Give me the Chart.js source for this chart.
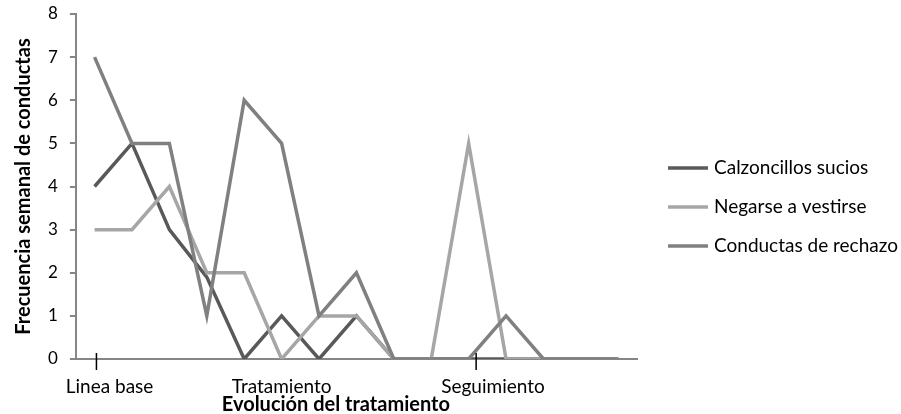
<!DOCTYPE html>
<html>
<head>
<meta charset="utf-8">
<script src="https://cdn.jsdelivr.net/npm/chart.js@4.4.1/dist/chart.umd.min.js"></script>
<style>
  html, body { margin: 0; padding: 0; background: #fff; }
</style>
</head>
<body>
<canvas id="chart" width="901" height="414"></canvas>
<script>
// Data (one point per week)
const weeks = ['1', '2', '3', '4', '5', '6', '7', '8', '9', '10', '11', '12', '13', '14', '15'];
const calzoncillos = [4, 5, 3, 1.9, 0, 1, 0, 1, 0, 0, 0, 0, 0, 0, 0];
const negarse = [3, 3, 4, 2, 2, 0, 1, 1, 0, 0, 5, 0, 0, 0, 0];
const rechazo = [7, 5, 5, 1, 6, 5, 1, 2, 0, 0, 0, 1, 0, 0, 0];
const seriesNames = ['Calzoncillos sucios', 'Negarse a vestirse', 'Conductas de rechazo'];
const seriesColors = ['#595959', '#a6a6a6', '#808080'];
const yTicks = [0, 1, 2, 3, 4, 5, 6, 7, 8];

// Phase labels under the axis (position in week units)
const phaseLabels = ['Linea base', 'Tratamiento', 'Seguimiento'];
const phaseAt = [0.4, 5, 10.65];
const phaseMarks = [0.05, 10.2];
const xTitle = 'Evolución del tratamiento';
const xTitleAt = 6.45;
const yTitle = 'Frecuencia semanal de conductas';

const FONT = 'Lato';

// draws phase labels, x title and the legend on the right
const annotations = {
  id: 'annotations',
  afterDraw(chart) {
    const { ctx, chartArea, scales: { x } } = chart;
    ctx.save();

    ctx.strokeStyle = '#000';
    ctx.lineWidth = 1.5;
    phaseMarks.forEach(v => {
      const px = x.getPixelForValue(v);
      ctx.beginPath();
      ctx.moveTo(px, chartArea.bottom - 6);
      ctx.lineTo(px, chartArea.bottom + 11);
      ctx.stroke();
    });

    ctx.fillStyle = '#000';
    ctx.textAlign = 'center';
    ctx.textBaseline = 'middle';
    ctx.font = `19px ${FONT}`;
    phaseLabels.forEach((t, i) => {
      ctx.fillText(t, x.getPixelForValue(phaseAt[i]), chartArea.bottom + 28);
    });

    ctx.font = `bold 20px ${FONT}`;
    ctx.fillText(xTitle, x.getPixelForValue(xTitleAt), chartArea.bottom + 46);

    // legend
    ctx.font = `19px ${FONT}`;
    ctx.textAlign = 'left';
    const mid = chart.height / 2;
    chart.data.datasets.forEach((ds, i) => {
      const y = mid + (i - 1) * 39;
      const x0 = chartArea.right + 31;
      ctx.strokeStyle = ds.borderColor;
      ctx.lineWidth = ds.borderWidth;
      ctx.beginPath();
      ctx.moveTo(x0, y);
      ctx.lineTo(x0 + 40, y);
      ctx.stroke();
      ctx.fillText(ds.label, x0 + 46, y);
    });

    ctx.restore();
  }
};

const seriesData = [calzoncillos, negarse, rechazo];
const datasets = seriesData.map((d, i) => ({
  label: seriesNames[i],
  data: d,
  borderColor: seriesColors[i],
  backgroundColor: seriesColors[i],
  borderWidth: 3.5,
  pointRadius: 0,
  tension: 0,
  order: 2 - i // later series on top, like the original
}));

new Chart(document.getElementById('chart'), {
  type: 'line',
  data: { labels: weeks, datasets },
  options: {
    responsive: false,
    animation: false,
    layout: { padding: { left: 12, top: 14, right: 264, bottom: 47 } },
    plugins: {
      legend: { display: false },
      tooltip: { enabled: false }
    },
    scales: {
      x: {
        type: 'category',
        offset: true,
        grid: { display: false },
        border: { display: true, color: '#868686', width: 2 },
        ticks: { display: false }
      },
      y: {
        min: 0,
        max: 8,
        afterBuildTicks: axis => { axis.ticks = yTicks.map(v => ({ value: v })); },
        afterFit: axis => { axis.paddingTop = 0; axis.paddingBottom = 0; },
        grid: { display: true, drawOnChartArea: false, drawTicks: true, tickLength: 6, color: '#868686', lineWidth: 2 },
        border: { display: true, color: '#868686', width: 2 },
        ticks: { color: '#000', padding: 12, font: { family: FONT, size: 17 } },
        title: {
          display: true,
          text: yTitle,
          color: '#000',
          padding: { top: 0, bottom: 0 },
          font: { family: FONT, size: 20, weight: 'bold' }
        }
      }
    }
  },
  plugins: [annotations]
});
</script>
</body>
</html>
